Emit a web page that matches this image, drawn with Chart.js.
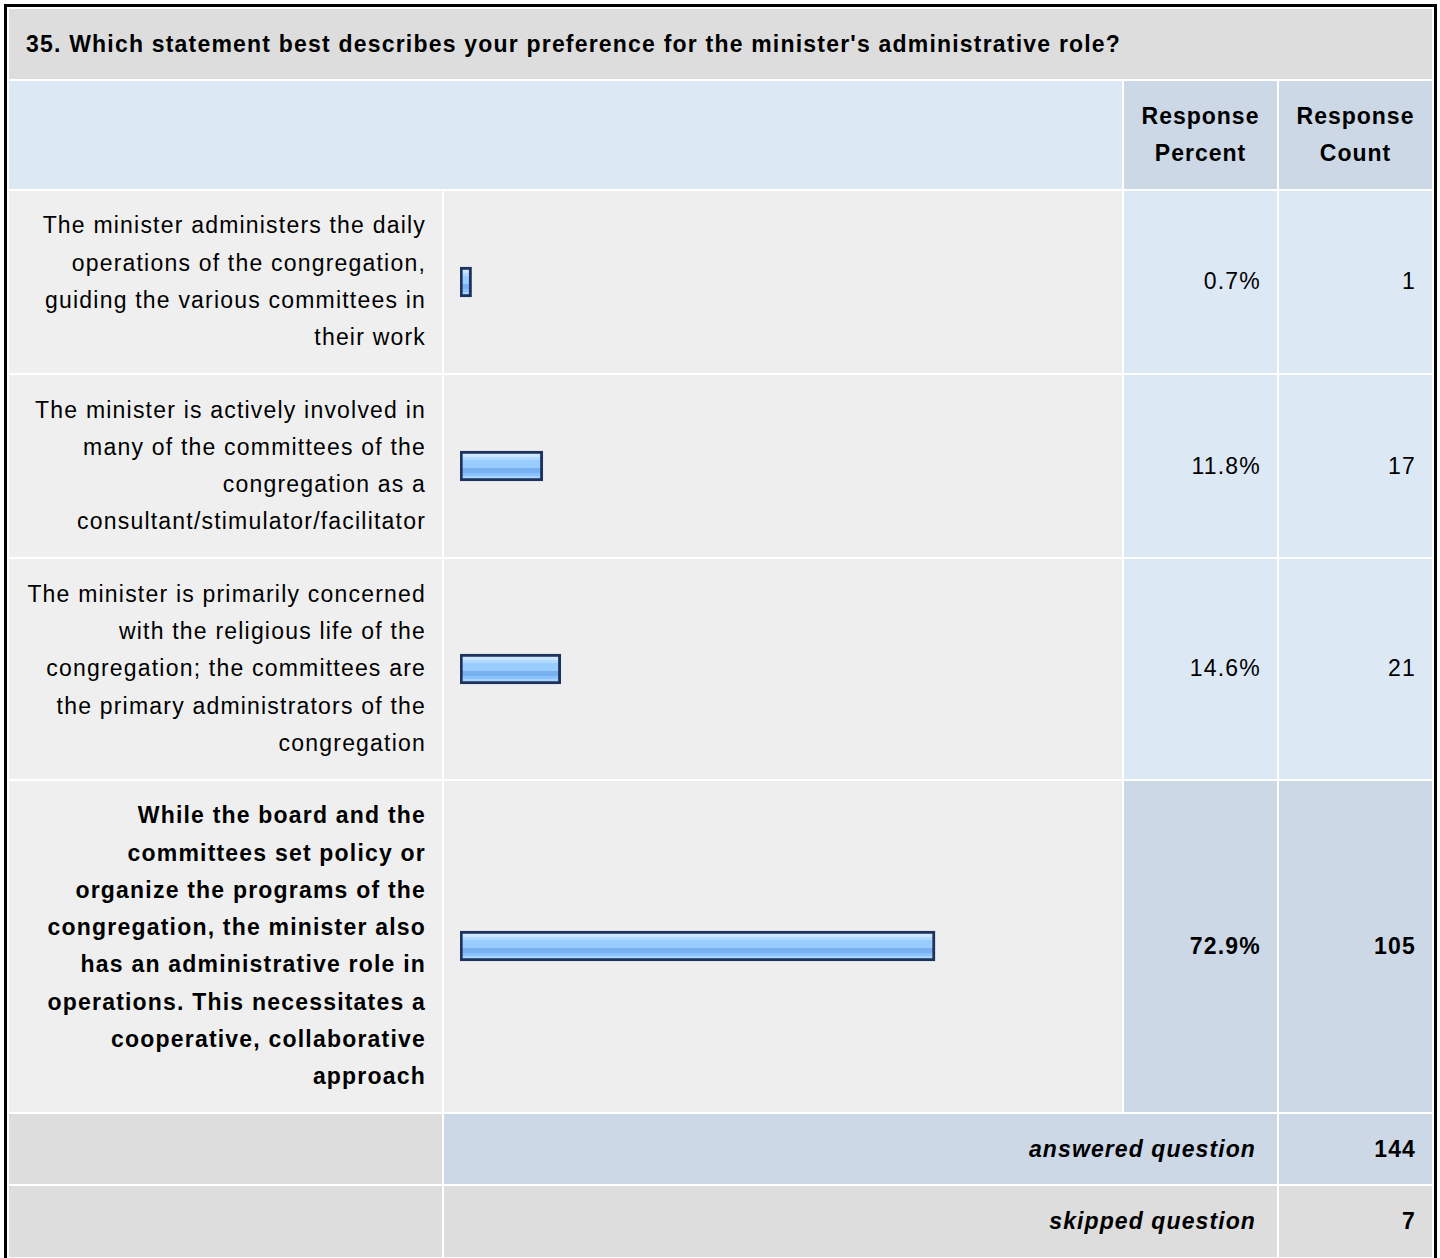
<!DOCTYPE html>
<html>
<head>
<meta charset="utf-8">
<script src="https://cdn.jsdelivr.net/npm/chart.js@4.4.1/dist/chart.umd.min.js"></script>
<style>
  html, body { margin: 0; padding: 0; background: #fff; }
  body { font-family: "Liberation Sans", Arial, Helvetica, sans-serif; color: #000; }
  table.survey {
    margin: 4px 0 0 4px;
    border: 3px solid #000;
    border-collapse: separate;
    border-spacing: 2px;
    table-layout: fixed;
    width: 1433px;
  }
  table.survey td {
    box-sizing: border-box;
    font-size: 23px;
    line-height: 37.3px;
    letter-spacing: 1.2px;
    padding: 16.5px 16px 16.5px 17px;
    vertical-align: middle;
    white-space: nowrap;
  }
  td.title { background: #dddddd; font-weight: bold; letter-spacing: 1.2px !important; text-align: left; }
  td.hblank { background: #dde8f5; }
  td.hcol { background: #ccd8e6; font-weight: bold; text-align: center; letter-spacing: 1.0px !important; padding-left: 10px !important; padding-right: 10px !important; }
  td.label { background: #efefef; text-align: right; }
  td.barcell { background: #eeeeee; padding: 0 0 0 16px !important; text-align: left; }
  td.num { background: #dde8f5; text-align: right; }
  tr.top td.num { background: #ccd8e6; }
  tr.top td { font-weight: bold; letter-spacing: 1.2px !important; }
  td.foot0 { background: #dddddd; }
  td.footA { background: #ccd8e6; text-align: right; font-weight: bold; font-style: italic; letter-spacing: 1.1px !important; padding-right: 21px !important; }
  td.footB { background: #dddddd; text-align: right; font-weight: bold; font-style: italic; letter-spacing: 1.1px !important; padding-right: 21px !important; }
  td.footNA { background: #ccd8e6; text-align: right; font-weight: bold; letter-spacing: 1.1px !important; }
  td.footNB { background: #dddddd; text-align: right; font-weight: bold; letter-spacing: 1.1px !important; }
  .barwrap { position: relative; width: 649px; height: 40px; }
</style>
</head>
<body>
<table class="survey" id="survey">
  <colgroup>
    <col style="width:433px">
    <col style="width:678px">
    <col style="width:153px">
    <col style="width:153px">
  </colgroup>
  <tbody id="tbody"></tbody>
</table>
<script>
// ---- Data ----
const questionTitle = "35. Which statement best describes your preference for the minister's administrative role?";
const columnHeaders = [["Response", "Percent"], ["Response", "Count"]];
const categories = [
  ["The minister administers the daily", "operations of the congregation,", "guiding the various committees in", "their work"],
  ["The minister is actively involved in", "many of the committees of the", "congregation as a", "consultant/stimulator/facilitator"],
  ["The minister is primarily concerned", "with the religious life of the", "congregation; the committees are", "the primary administrators of the", "congregation"],
  ["While the board and the", "committees set policy or", "organize the programs of the", "congregation, the minister also", "has an administrative role in", "operations. This necessitates a", "cooperative, collaborative", "approach"]
];
const responsePercent = [0.7, 11.8, 14.6, 72.9];
const responseCount = [1, 17, 21, 105];
const summaryLabels = ["answered question", "skipped question"];
const summaryValues = [144, 7];

// ---- Build table ----
const tbody = document.getElementById('tbody');
function esc(s) { return s.replace(/&/g, '&amp;').replace(/</g, '&lt;'); }
let html = '';
html += '<tr><td class="title" colspan="4">' + esc(questionTitle) + '</td></tr>';
html += '<tr><td class="hblank" colspan="2"></td>' +
  columnHeaders.map(h => '<td class="hcol">' + h.map(esc).join('<br>') + '</td>').join('') + '</tr>';
const maxCount = Math.max(...responseCount);
categories.forEach((lines, i) => {
  const cls = responseCount[i] === maxCount ? ' class="top"' : '';
  html += '<tr' + cls + '>' +
    '<td class="label">' + lines.map(esc).join('<br>') + '</td>' +
    '<td class="barcell"><div class="barwrap"><canvas id="bar' + i + '"></canvas></div></td>' +
    '<td class="num">' + responsePercent[i].toFixed(1) + '%</td>' +
    '<td class="num">' + responseCount[i] + '</td>' +
    '</tr>';
});
html += '<tr><td class="foot0"></td><td class="footA" colspan="2">' + summaryLabels[0] + '</td><td class="footNA">' + summaryValues[0] + '</td></tr>';
html += '<tr><td class="foot0"></td><td class="footB" colspan="2">' + summaryLabels[1] + '</td><td class="footNB">' + summaryValues[1] + '</td></tr>';
tbody.innerHTML = html;

// ---- Bars (Chart.js) ----
const BAR_H = 30;
function barGradient(context) {
  const chart = context.chart;
  const area = chart.chartArea;
  if (!area) return '#99ccff';
  const cy = (area.top + area.bottom) / 2;
  const top = cy - BAR_H / 2, bot = cy + BAR_H / 2;
  const g = chart.ctx.createLinearGradient(0, top, 0, bot);
  const stops = [
    [0, '#cce6ff'], [0.2, '#cce6ff'], [0.2, '#b2d9ff'], [0.3, '#b2d9ff'],
    [0.3, '#99ccff'], [0.57, '#99ccff'], [0.57, '#78b0f0'], [0.73, '#78b0f0'],
    [0.73, '#88c3ff'], [0.84, '#88c3ff'], [0.84, '#a8d4ff'], [1, '#a8d4ff']
  ];
  stops.forEach(s => g.addColorStop(s[0], s[1]));
  return g;
}
Chart.defaults.font.family = '"Liberation Sans", Arial, sans-serif';
categories.forEach((lines, i) => {
  new Chart(document.getElementById('bar' + i), {
    type: 'bar',
    data: {
      labels: [lines.join(' ')],
      datasets: [{
        data: [responsePercent[i]],
        base: -1.1,
        backgroundColor: barGradient,
        borderColor: '#1d335b',
        borderWidth: 3,
        borderSkipped: false,
        barThickness: BAR_H
      }]
    },
    options: {
      indexAxis: 'y',
      responsive: true,
      maintainAspectRatio: false,
      devicePixelRatio: 1,
      animation: false,
      layout: { padding: 0 },
      plugins: { legend: { display: false }, tooltip: { enabled: false } },
      scales: {
        x: { type: 'linear', min: -1.1, max: 100, display: false },
        y: { type: 'category', display: false }
      }
    }
  });
});
</script>
</body>
</html>
